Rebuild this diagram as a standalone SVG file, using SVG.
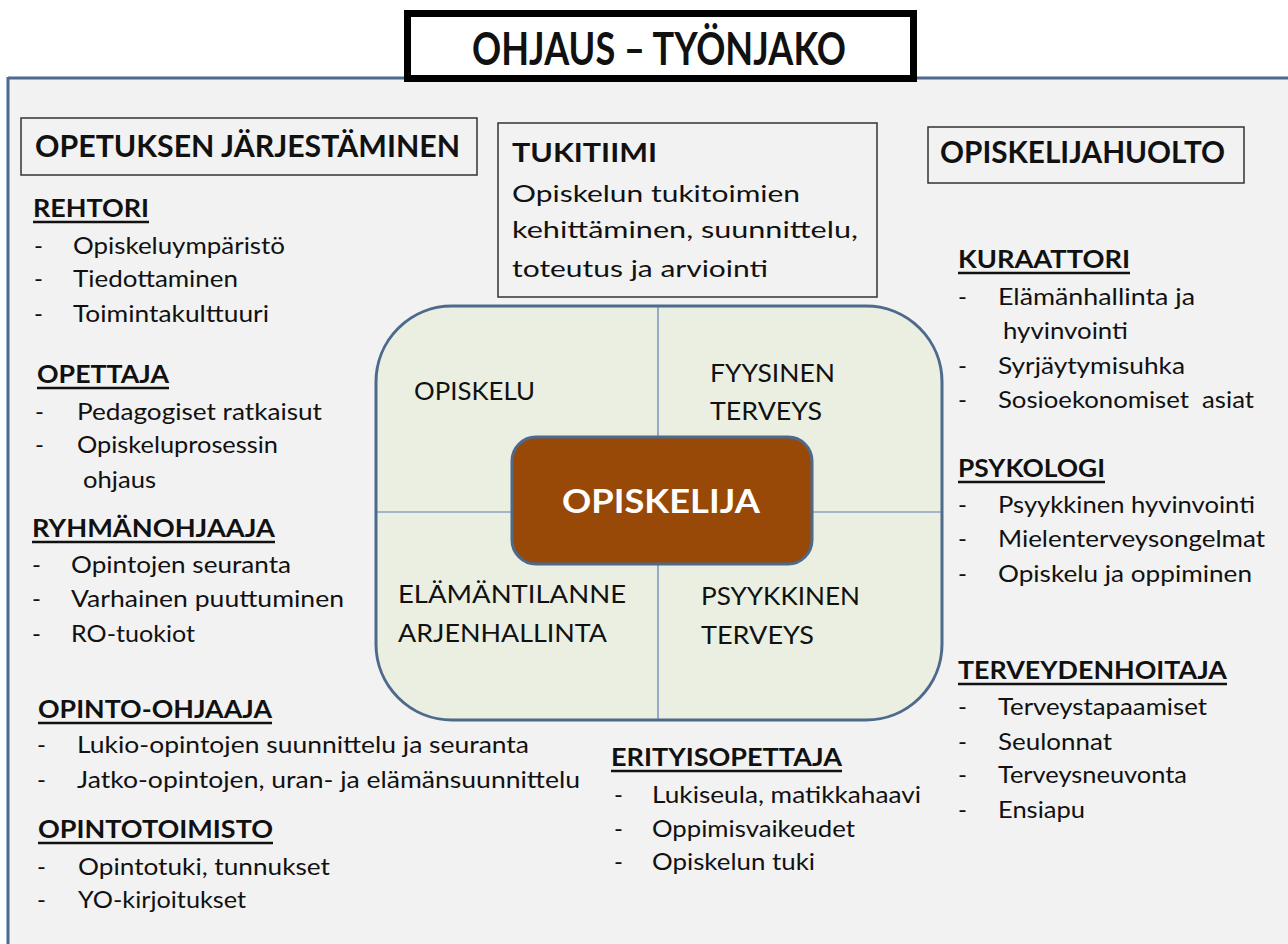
<svg xmlns="http://www.w3.org/2000/svg" width="1288" height="944" viewBox="0 0 1288 944">
<style>
text{font-family:Lato,"Open Sans","Liberation Sans",sans-serif;fill:#111}
.hd{font-weight:bold;font-size:30px}
.role{font-weight:bold;font-size:24px}
.it{font-size:24px}
.q{font-size:25px}
.box{fill:none;stroke:#333;stroke-width:1.5}
.ul{stroke:#111;stroke-width:2.5}
</style>
<rect x="0" y="0" width="1288" height="944" fill="#ffffff"/>
<g id="panel">
<rect x="8" y="78" width="1290" height="880" fill="#f2f2f2"/>
<line x1="8" y1="78" x2="1288" y2="78" stroke="#4d6a8c" stroke-width="3"/>
<line x1="8" y1="77" x2="8" y2="944" stroke="#4d6a8c" stroke-width="3"/>
</g>
<g id="title">
<rect x="407.5" y="13.5" width="506" height="65" fill="#fff" stroke="#000" stroke-width="7"/>
<text x="659" y="65" text-anchor="middle" font-weight="bold" font-size="46" textLength="374" lengthAdjust="spacingAndGlyphs">OHJAUS – TYÖNJAKO</text>
</g>
<g id="opetuksen">
<rect class="box" x="21" y="118" width="456" height="57"/>
<text class="hd" x="35" y="157" textLength="425" lengthAdjust="spacingAndGlyphs">OPETUKSEN JÄRJESTÄMINEN</text>
</g>
<g id="tukitiimi">
<rect class="box" x="498" y="123" width="379" height="174"/>
<text x="512" y="162" font-weight="bold" font-size="27" textLength="145" lengthAdjust="spacingAndGlyphs">TUKITIIMI</text>
<text x="512" y="202" font-size="23.5" textLength="288" lengthAdjust="spacingAndGlyphs">Opiskelun tukitoimien</text>
<text x="512" y="238" font-size="23.5" textLength="346" lengthAdjust="spacingAndGlyphs">kehittäminen, suunnittelu,</text>
<text x="512" y="277" font-size="23.5" textLength="256" lengthAdjust="spacingAndGlyphs">toteutus ja arviointi</text>
</g>
<g id="opiskelijahuolto">
<rect class="box" x="928" y="127" width="316" height="56"/>
<text class="hd" x="940" y="163" textLength="285" lengthAdjust="spacingAndGlyphs">OPISKELIJAHUOLTO</text>
</g>
<g id="rehtori">
<text class="role" x="33" y="217" textLength="116" lengthAdjust="spacingAndGlyphs">REHTORI</text>
<line class="ul" x1="33" y1="222" x2="149" y2="222"/>
<text class="it" x="34" y="254">-</text><text class="it" x="73" y="254" textLength="212" lengthAdjust="spacingAndGlyphs">Opiskeluympäristö</text>
<text class="it" x="34" y="287">-</text><text class="it" x="73" y="287" textLength="165" lengthAdjust="spacingAndGlyphs">Tiedottaminen</text>
<text class="it" x="34" y="322">-</text><text class="it" x="73" y="322" textLength="196" lengthAdjust="spacingAndGlyphs">Toimintakulttuuri</text>
</g>
<g id="opettaja">
<text class="role" x="37" y="383" textLength="132" lengthAdjust="spacingAndGlyphs">OPETTAJA</text>
<line class="ul" x1="37" y1="388" x2="169" y2="388"/>
<text class="it" x="35" y="420">-</text><text class="it" x="77" y="420" textLength="245" lengthAdjust="spacingAndGlyphs">Pedagogiset ratkaisut</text>
<text class="it" x="35" y="453">-</text><text class="it" x="77" y="453" textLength="201" lengthAdjust="spacingAndGlyphs">Opiskeluprosessin</text>
<text class="it" x="83" y="488" textLength="73" lengthAdjust="spacingAndGlyphs">ohjaus</text>
</g>
<g id="ryhmanohjaaja">
<text class="role" x="32" y="537" textLength="243" lengthAdjust="spacingAndGlyphs">RYHMÄNOHJAAJA</text>
<line class="ul" x1="32" y1="542" x2="275" y2="542"/>
<text class="it" x="32" y="573">-</text><text class="it" x="71" y="573" textLength="220" lengthAdjust="spacingAndGlyphs">Opintojen seuranta</text>
<text class="it" x="32" y="607">-</text><text class="it" x="71" y="607" textLength="273" lengthAdjust="spacingAndGlyphs">Varhainen puuttuminen</text>
<text class="it" x="32" y="642">-</text><text class="it" x="71" y="642" textLength="124" lengthAdjust="spacingAndGlyphs">RO-tuokiot</text>
</g>
<g id="opinto-ohjaaja">
<text class="role" x="38" y="718" textLength="234" lengthAdjust="spacingAndGlyphs">OPINTO-OHJAAJA</text>
<line class="ul" x1="38" y1="723" x2="272" y2="723"/>
<text class="it" x="37" y="753">-</text><text class="it" x="77" y="753" textLength="452" lengthAdjust="spacingAndGlyphs">Lukio-opintojen suunnittelu ja seuranta</text>
<text class="it" x="37" y="788">-</text><text class="it" x="77" y="788" textLength="503" lengthAdjust="spacingAndGlyphs">Jatko-opintojen, uran- ja elämänsuunnittelu</text>
</g>
<g id="opintotoimisto">
<text class="role" x="38" y="838" textLength="235" lengthAdjust="spacingAndGlyphs">OPINTOTOIMISTO</text>
<line class="ul" x1="38" y1="843" x2="273" y2="843"/>
<text class="it" x="37" y="875">-</text><text class="it" x="78" y="875" textLength="252" lengthAdjust="spacingAndGlyphs">Opintotuki, tunnukset</text>
<text class="it" x="37" y="908">-</text><text class="it" x="78" y="908" textLength="168" lengthAdjust="spacingAndGlyphs">YO-kirjoitukset</text>
</g>
<g id="erityisopettaja">
<text class="role" x="611" y="766" textLength="231" lengthAdjust="spacingAndGlyphs">ERITYISOPETTAJA</text>
<line class="ul" x1="611" y1="771" x2="842" y2="771"/>
<text class="it" x="614" y="803">-</text><text class="it" x="652" y="803" textLength="269" lengthAdjust="spacingAndGlyphs">Lukiseula, matikkahaavi</text>
<text class="it" x="614" y="837">-</text><text class="it" x="652" y="837" textLength="203" lengthAdjust="spacingAndGlyphs">Oppimisvaikeudet</text>
<text class="it" x="614" y="870">-</text><text class="it" x="652" y="870" textLength="163" lengthAdjust="spacingAndGlyphs">Opiskelun tuki</text>
</g>
<g id="kuraattori">
<text class="role" x="958" y="268" textLength="172" lengthAdjust="spacingAndGlyphs">KURAATTORI</text>
<line class="ul" x1="958" y1="273" x2="1130" y2="273"/>
<text class="it" x="958" y="305">-</text><text class="it" x="998" y="305" textLength="197" lengthAdjust="spacingAndGlyphs">Elämänhallinta ja</text>
<text class="it" x="1003" y="339" textLength="125" lengthAdjust="spacingAndGlyphs">hyvinvointi</text>
<text class="it" x="958" y="374">-</text><text class="it" x="998" y="374" textLength="187" lengthAdjust="spacingAndGlyphs">Syrjäytymisuhka</text>
<text class="it" x="958" y="408">-</text><text class="it" x="998" y="408" textLength="256" lengthAdjust="spacingAndGlyphs" xml:space="preserve">Sosioekonomiset  asiat</text>
</g>
<g id="psykologi">
<text class="role" x="958" y="477" textLength="147" lengthAdjust="spacingAndGlyphs">PSYKOLOGI</text>
<line class="ul" x1="958" y1="482" x2="1105" y2="482"/>
<text class="it" x="958" y="513">-</text><text class="it" x="998" y="513" textLength="257" lengthAdjust="spacingAndGlyphs">Psyykkinen hyvinvointi</text>
<text class="it" x="958" y="547">-</text><text class="it" x="998" y="547" textLength="267" lengthAdjust="spacingAndGlyphs">Mielenterveysongelmat</text>
<text class="it" x="958" y="582">-</text><text class="it" x="998" y="582" textLength="254" lengthAdjust="spacingAndGlyphs">Opiskelu ja oppiminen</text>
</g>
<g id="terveydenhoitaja">
<text class="role" x="958" y="679" textLength="269" lengthAdjust="spacingAndGlyphs">TERVEYDENHOITAJA</text>
<line class="ul" x1="958" y1="684" x2="1227" y2="684"/>
<text class="it" x="958" y="715">-</text><text class="it" x="998" y="715" textLength="209" lengthAdjust="spacingAndGlyphs">Terveystapaamiset</text>
<text class="it" x="958" y="750">-</text><text class="it" x="998" y="750" textLength="114" lengthAdjust="spacingAndGlyphs">Seulonnat</text>
<text class="it" x="958" y="783">-</text><text class="it" x="998" y="783" textLength="189" lengthAdjust="spacingAndGlyphs">Terveysneuvonta</text>
<text class="it" x="958" y="818">-</text><text class="it" x="998" y="818" textLength="87" lengthAdjust="spacingAndGlyphs">Ensiapu</text>
</g>
<g id="center">
<rect x="376" y="306" width="566" height="414" rx="76" fill="#ebefe1" stroke="#4d6a8c" stroke-width="3"/>
<g id="dividers">
<line x1="658" y1="307" x2="658" y2="719" stroke="#5b7cb3" stroke-width="1.2"/>
<line x1="377" y1="512" x2="941" y2="512" stroke="#5b7cb3" stroke-width="1.2"/>
</g>
<text class="q" x="414" y="400" textLength="121" lengthAdjust="spacingAndGlyphs">OPISKELU</text>
<text class="q" x="710" y="382" textLength="125" lengthAdjust="spacingAndGlyphs">FYYSINEN</text>
<text class="q" x="710" y="420" textLength="112" lengthAdjust="spacingAndGlyphs">TERVEYS</text>
<text class="q" x="398" y="603" textLength="228" lengthAdjust="spacingAndGlyphs">ELÄMÄNTILANNE</text>
<text class="q" x="398" y="642" textLength="209" lengthAdjust="spacingAndGlyphs">ARJENHALLINTA</text>
<text class="q" x="701" y="605" textLength="159" lengthAdjust="spacingAndGlyphs">PSYYKKINEN</text>
<text class="q" x="701" y="644" textLength="113" lengthAdjust="spacingAndGlyphs">TERVEYS</text>
</g>
<g id="opiskelija">
<rect x="512" y="437" width="300" height="127" rx="24" fill="#984807" stroke="#4d6a8c" stroke-width="3"/>
<text x="661" y="513" text-anchor="middle" font-weight="bold" font-size="33" textLength="198" lengthAdjust="spacingAndGlyphs" style="fill:#fff">OPISKELIJA</text>
</g>
</svg>
